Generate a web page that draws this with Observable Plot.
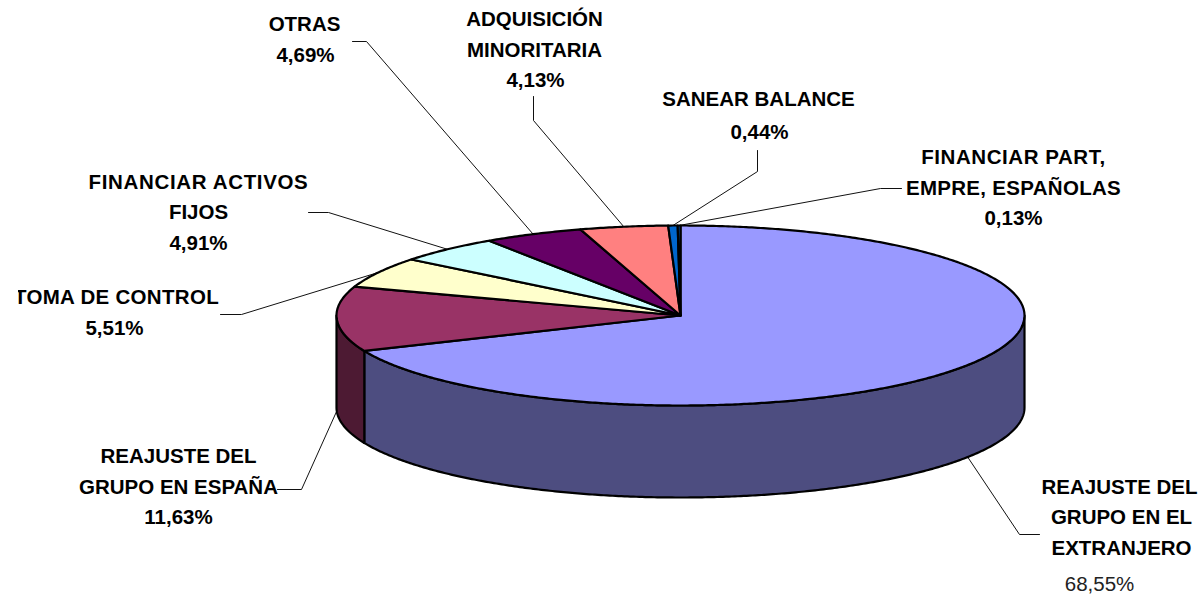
<!DOCTYPE html>
<html><head><meta charset="utf-8">
<style>html,body{margin:0;padding:0;background:#fff}svg{display:block}</style>
<script src="https://cdn.jsdelivr.net/npm/d3@7"></script>
<script src="https://cdn.jsdelivr.net/npm/@observablehq/plot@0.6"></script>
</head><body><div id="chart"></div>
<script>
const categories = [
  "REAJUSTE DEL GRUPO EN EL EXTRANJERO","REAJUSTE DEL GRUPO EN ESPAÑA","TOMA DE CONTROL",
  "FINANCIAR ACTIVOS FIJOS","OTRAS","ADQUISICIÓN MINORITARIA","SANEAR BALANCE","FINANCIAR PART, EMPRE, ESPAÑOLAS"
];
const values = [68.55,11.63,5.51,4.91,4.69,4.13,0.44,0.13];
const topColors = ["#9999FF","#993366","#FFFFCC","#CCFFFF","#660066","#FF8080","#0066CC","#0066CC"];
const wallColors = ["#4D4D80","#4D1A33","#808066","#668080","#330033","#804040","#003366","#003366"];
const valueLabels = ["68,55%","11,63%","5,51%","4,91%","4,69%","4,13%","0,44%","0,13%"];

// layout of the 3D pie
const cx = 680, cy = 315, rx = 344, ry = 90, depth = 92;

// label text lines: [slice, text, x, y, bold]
const labelLines = [
  [0,"REAJUSTE DEL",1119,487,1],[0,"GRUPO EN EL",1121,517,1],[0,"EXTRANJERO",1121,548,1],[0,"68,55%",1099,584,0],
  [1,"REAJUSTE DEL",178,456,1],[1,"GRUPO EN ESPAÑA",178,487,1],[1,"11,63%",178,517,1],
  [3,"FINANCIAR ACTIVOS",198,182,1],[3,"FIJOS",198,212,1],[3,"4,91%",198,243,1],
  [4,"OTRAS",304,24,1],[4,"4,69%",305,55,1],
  [5,"ADQUISICIÓN",534,19,1],[5,"MINORITARIA",534,50,1],[5,"4,13%",535,80,1],
  [6,"SANEAR BALANCE",758,99,1],[6,"0,44%",759,132,1],
  [7,"FINANCIAR PART,",1013,157,1],[7,"EMPRE, ESPAÑOLAS",1013,188,1],[7,"0,13%",1013,218,1],
  [2,"5,51%",114,328,1]
];
const clippedLines = [[2,"TOMA DE CONTROL",116,297,1]];
const wideLines = new Map([["FINANCIAR ACTIVOS",0.65],["FINANCIAR PART,",0.55],["EMPRE, ESPAÑOLAS",0.3],["TOMA DE CONTROL",0.3]]);
// leader elbows: label end, elbow (the rim end is taken from the slice's mid angle)
const leaders = [
  [[1039,534],[1019,534]],
  [[277,489],[301,489]],
  [[220,314],[241,314]],
  [[308,212],[328,212]],
  [[352,41],[366,41]],
  [[533,96],[533,120]],
  [[757,150],[757,171]],
  [[901,188],[880,188]]
];

const TAU = 2*Math.PI;
const rim = (a, dy = 0) => [cx + rx*Math.sin(a), cy - ry*Math.cos(a) + dy];
let acc = 0;
const total = d3.sum(values);
const slices = values.map((v,i) => {
  const a0 = acc/total*TAU; acc += v; const a1 = acc/total*TAU;
  return {i, a0, a1, mid:(a0+a1)/2};
});
const arc = (a0,a1,dy=0) => {
  const n = Math.max(2, Math.ceil((a1-a0)/(TAU/720)));
  return d3.range(n+1).map(k => rim(a0+(a1-a0)*k/n, dy));
};
const tops = [], walls = [];
for (const s of slices) {
  const poly = [[cx,cy], ...arc(s.a0,s.a1), [cx,cy]];
  poly.forEach(p => tops.push({x:p[0],y:p[1],key:s.i,fill:topColors[s.i]}));
  const lo = Math.max(s.a0, TAU/4), hi = Math.min(s.a1, 3*TAU/4);
  if (hi > lo) {
    const up = arc(lo,hi), down = arc(lo,hi,depth).reverse();
    [...up, ...down, up[0]].forEach(p => walls.push({x:p[0],y:p[1],key:s.i,fill:wallColors[s.i]}));
  }
}
const leaderPts = [];
slices.forEach(s => {
  const visibleBottom = s.mid > TAU/4 && s.mid < 3*TAU/4;
  const end = rim(s.mid, visibleBottom ? depth : 0);
  [...leaders[s.i], end].forEach(p => leaderPts.push({x:p[0],y:p[1],key:s.i}));
});
const asRow = ([slice,text,x,y,bold]) => ({slice,text,x,y,bold});
const font = {fontFamily:"'Liberation Sans',Arial,sans-serif", fontSize:20.5, textAnchor:"middle", lineAnchor:"middle"};

const plot = Plot.plot({
  width:1200, height:594,
  marginLeft:18, marginRight:0, marginTop:0, marginBottom:0,
  x:{domain:[18,1200], axis:null},
  y:{domain:[0,594], range:[0,594], axis:null},
  color:{type:"identity"},
  style:{background:"#fff"},
  marks:[
    Plot.line(leaderPts,{x:"x",y:"y",z:"key",stroke:"#111",strokeWidth:1,curve:"linear"}),
    Plot.line(walls,{x:"x",y:"y",z:"key",fill:"fill",stroke:"#000",strokeWidth:2.2,curve:"linear"}),
    Plot.line(tops,{x:"x",y:"y",z:"key",fill:"fill",stroke:"#000",strokeWidth:2.2,curve:"linear"}),
    Plot.text(labelLines.filter(d=>d[4]).map(asRow),{x:"x",y:"y",text:"text",fill:"#000",fontWeight:"bold",...font}),
    Plot.text(labelLines.filter(d=>!d[4]).map(asRow),{x:"x",y:"y",text:"text",fill:"#222",...font}),
    Plot.text(clippedLines.map(asRow),{x:"x",y:"y",text:"text",fill:"#000",fontWeight:"bold",clip:"frame",...font})
  ]
});
d3.select(plot).selectAll("text").each(function(){
  const sp = wideLines.get(this.textContent);
  if (sp) this.style.letterSpacing = sp + "px";
});
document.getElementById("chart").appendChild(plot);
</script></body></html>
